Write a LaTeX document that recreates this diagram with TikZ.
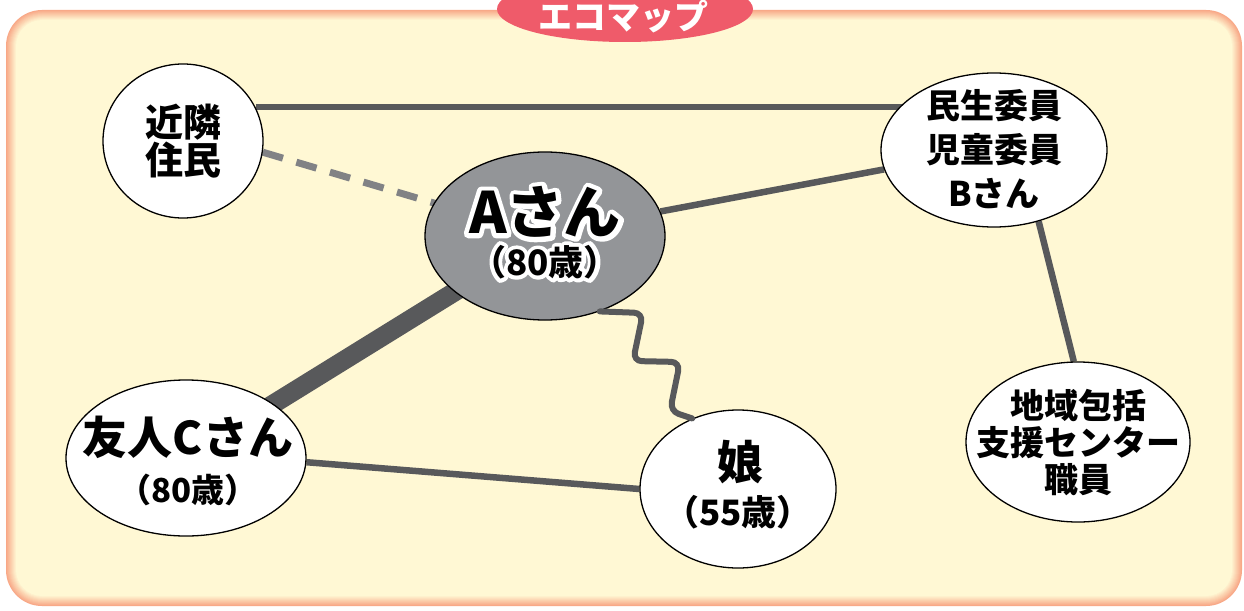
\documentclass[tikz,border=0pt]{standalone}
\usepackage{fontspec}
\usetikzlibrary{shapes.geometric}
\newfontfamily\jp{Noto Sans CJK JP}
\newfontfamily\jphaloA{Noto Sans CJK JP}[FakeBold=16, BoldFeatures={FakeBold=16}]
\newfontfamily\jphaloB{Noto Sans CJK JP}[FakeBold=22, BoldFeatures={FakeBold=22}]
\newcommand\roundjoin{\special{pdf:literal direct 1 j 1 J}}
\definecolor{peach}{HTML}{F8A887}
\definecolor{cream}{HTML}{FFF8D4}
\definecolor{titlered}{HTML}{EF5B6A}
\definecolor{linegray}{HTML}{58595B}
\definecolor{dashgray}{HTML}{818285}
\definecolor{agray}{HTML}{939598}
\pgfdeclarelayer{frame}
\pgfdeclarelayer{edges}
\pgfsetlayers{frame,edges,main}
\tikzset{
  person/.style={ellipse, draw=black, line width=1.3pt, fill=white, inner sep=0pt},
  label/.style={inner sep=0pt, align=center, font={\jp\bfseries}},
  tie/.style={draw=linegray, line width=6.5pt},
}
\begin{document}
\begin{tikzpicture}[x=1pt,y=-1pt]
\useasboundingbox (0,0) rectangle (1244,610);
\begin{pgfonlayer}{frame}
\fill[white] (0,0) rectangle (1244,610);
\foreach \i in {0,...,10}{
  \pgfmathsetmacro{\p}{100-10*\i}
  \fill[rounded corners={36-\i}, color=peach!\p!cream] (6+\i,10+\i) rectangle (1242-\i,606-\i);
}
\end{pgfonlayer}
% title
\node[ellipse, fill=titlered, minimum width=256, minimum height=66, inner sep=0pt] (title) at (625,9) {};
\node[label, text=white, font={\jp\bfseries\fontsize{34}{34}\selectfont}] (titletext) at (623,17) {エコマップ};

% person ellipses
\node[person, minimum width=160, minimum height=154] (N) at (183,141) {};
\node[person, fill=agray, minimum width=240, minimum height=168] (A) at (545,236) {};
\node[person, minimum width=226, minimum height=154] (B) at (994,150) {};
\node[person, minimum width=224, minimum height=160] (R) at (1078,442) {};
\node[person, minimum width=240, minimum height=156] (C) at (186,458) {};
\node[person, minimum width=196, minimum height=158] (D) at (738,489) {};

% texts (white halo copy beneath, black text on top)
\node[label, font={\jp\bfseries\fontsize{38}{36}\selectfont}] (Nt) at (N.center) {近隣\\住民};
\node[inner sep=0pt, text=white, font={\jphaloA\bfseries\fontsize{57.3}{57.3}\selectfont}] (Ath) at (545,212) {\roundjoin Aさん};
\node[inner sep=0pt, text=white, font={\jphaloB\bfseries\fontsize{35.2}{35.2}\selectfont}] (Ash) at (545,262) {\roundjoin （80歳）};
\node[label, font={\jp\bfseries\fontsize{57}{57}\selectfont}] (At) at (545,212) {Aさん};
\node[label, font={\jp\bfseries\fontsize{35}{35}\selectfont}] (As) at (545,262) {（80歳）};
\node[label, font={\jp\bfseries\fontsize{34}{44}\selectfont}] (Bt) at (994,149) {民生委員\\児童委員\\Bさん};
\node[label, font={\jp\bfseries\fontsize{34}{37}\selectfont}] (Rt) at (1078,443) {地域包括\\支援センター\\職員};
\node[label, font={\jp\bfseries\fontsize{45}{45}\selectfont}] (Ct) at (188,437) {友人Cさん};
\node[label, font={\jp\bfseries\fontsize{33}{33}\selectfont}] (Cs) at (188,490) {（80歳）};
\node[label, font={\jp\bfseries\fontsize{46}{46}\selectfont}] (Dt) at (740,462) {娘};
\node[label, font={\jp\bfseries\fontsize{35}{35}\selectfont}] (Ds) at (738,512) {（55歳）};

% connectors
\begin{pgfonlayer}{edges}
\draw[tie] (N.25) -- (N.25 -| B.center);
\draw[draw=dashgray, line width=7pt, dash pattern=on 21pt off 14pt] (N.-8) -- (A.center);
\draw[tie] (A.12) -- (B.190);
\draw[tie] (B.-58) -- (R.93);
\draw[draw=linegray, line width=19pt] (A.center) -- (C.center);
\draw[tie] (C.-2) -- (D.180);
\end{pgfonlayer}
\coordinate (w0) at (A.-54);
\coordinate (w5) at (D.123);
\draw[draw=linegray, line width=6pt, rounded corners=9pt, line cap=round]
  (w0) -- (643,313) -- (633,361) -- (680,362) -- (670,411) -- (w5);
\end{tikzpicture}
\end{document}
